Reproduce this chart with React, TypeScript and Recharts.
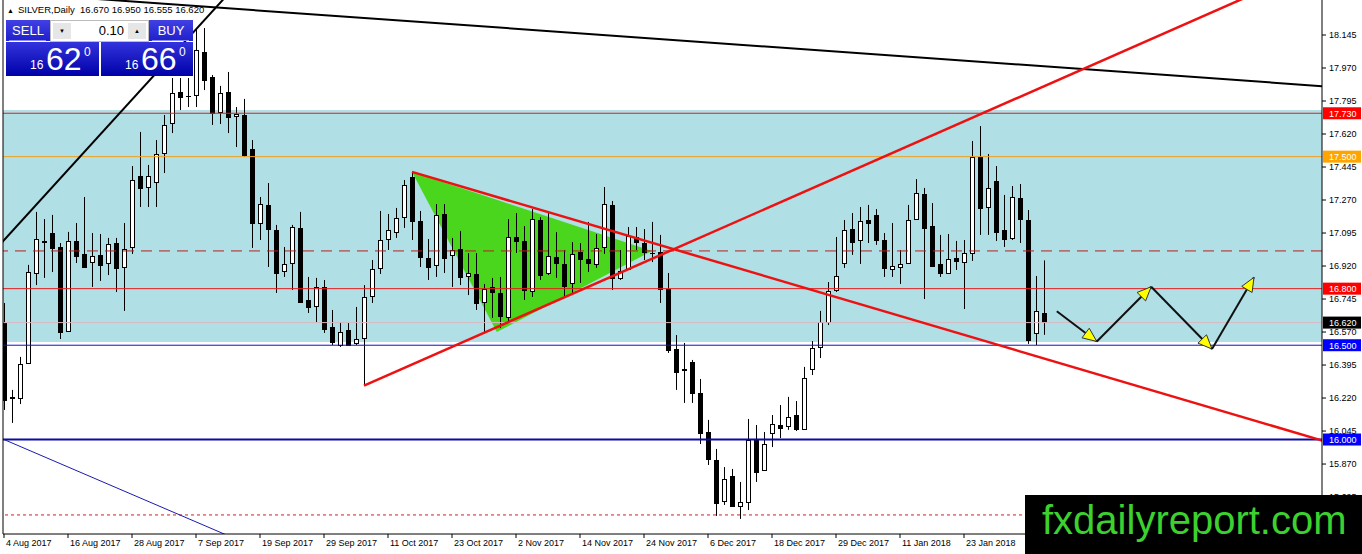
import React from "react";
import { ComposedChart, Bar, Area, XAxis, YAxis, ReferenceLine, ReferenceArea } from "recharts";

// daily candles, bar 0 = 4 Aug 2017
const opens = [
  16.618, 16.226, 16.22, 16.406, 16.883, 17.053, 17.095, 17.021, 16.576, 17.053,
  16.984, 16.941, 16.979, 16.936, 17.042, 16.915, 17.021, 17.397, 17.339, 17.366,
  17.519, 17.678, 17.843, 17.822, 17.827, 18.055, 17.922, 17.737, 17.843, 17.715,
  17.721, 17.54, 17.148, 17.244, 17.111, 16.894, 16.936, 17.122, 16.74, 16.708,
  16.809, 16.597, 16.501, 16.581, 16.512, 16.539, 16.761, 16.91, 17.063, 17.1,
  17.18, 17.392, 17.159, 16.963, 16.926, 17.196, 16.979, 17.01, 16.867, 16.878,
  16.729, 16.809, 16.777, 16.65, 17.074, 17.053, 16.788, 17.164, 16.883, 16.968,
  16.931, 16.83, 16.995, 16.957, 16.931, 17.021, 17.244, 16.857, 16.904, 17.074,
  17.042, 16.99, 16.995, 16.798, 16.48, 16.372, 16.411, 16.247, 16.04, 15.892,
  15.674, 15.807, 15.648, 15.669, 16.003, 15.839, 16.035, 16.077, 16.072, 16.13,
  16.056, 16.374, 16.491, 16.623, 16.793, 16.936, 17.116, 17.058, 17.164, 17.191,
  17.058, 16.904, 16.915, 16.936, 17.169, 17.302, 17.132, 16.931, 16.883, 16.963,
  16.941, 16.989, 17.498, 17.233, 17.371, 17.111, 17.069, 17.281, 17.164, 16.565,
  16.67,
];
const highs = [
  16.724, 16.263, 16.438, 16.926, 17.207, 17.169, 17.191, 17.042, 17.101, 17.148,
  17.286, 17.095, 17.09, 17.069, 17.069, 17.148, 17.45, 17.631, 17.456, 17.588,
  17.721, 17.917, 17.917, 17.917, 18.182, 18.182, 17.933, 17.875, 17.949, 17.763,
  17.806, 17.588, 17.286, 17.36, 17.138, 17.021, 17.138, 17.207, 16.862, 16.857,
  16.846, 16.687, 16.623, 16.618, 16.703, 16.819, 16.952, 17.212, 17.196, 17.228,
  17.376, 17.419, 17.212, 17.063, 17.249, 17.249, 17.069, 17.106, 16.989, 16.989,
  16.825, 16.857, 16.862, 17.169, 17.201, 17.132, 17.222, 17.18, 17.201, 17.1,
  17.005, 17.047, 17.042, 17.154, 17.09, 17.339, 17.265, 17.005, 17.127, 17.127,
  17.116, 17.154, 17.085, 16.883, 16.554, 16.512, 16.422, 16.321, 16.104, 15.95,
  15.854, 15.844, 15.775, 16.109, 16.077, 16.04, 16.13, 16.183, 16.226, 16.204,
  16.385, 16.522, 16.682, 16.835, 17.074, 17.164, 17.201, 17.233, 17.244, 17.222,
  17.095, 17.148, 17.005, 17.244, 17.381, 17.334, 17.254, 17.085, 17.09, 17.053,
  17.058, 17.583, 17.662, 17.514, 17.45, 17.297, 17.344, 17.355, 17.217, 16.867,
  16.95,
];
const lows = [
  16.157, 16.088, 16.188, 16.401, 16.819, 16.857, 16.888, 16.533, 16.57, 16.936,
  16.91, 16.809, 16.841, 16.872, 16.782, 16.682, 16.984, 17.233, 17.233, 17.233,
  17.413, 17.625, 17.747, 17.763, 17.763, 17.853, 17.668, 17.673, 17.625, 17.551,
  17.498, 17.016, 17.058, 16.915, 16.777, 16.862, 16.793, 16.729, 16.671, 16.623,
  16.565, 16.501, 16.491, 16.496, 16.501, 16.284, 16.724, 16.878, 17.005, 17.069,
  17.122, 17.058, 16.915, 16.846, 16.862, 16.883, 16.809, 16.819, 16.766, 16.687,
  16.565, 16.644, 16.591, 16.623, 16.989, 16.74, 16.756, 16.846, 16.872, 16.857,
  16.756, 16.777, 16.83, 16.888, 16.91, 16.984, 16.793, 16.846, 16.899, 17.005,
  16.952, 16.941, 16.724, 16.459, 16.263, 16.194, 16.194, 15.976, 15.865, 15.595,
  15.653, 15.648, 15.579, 15.626, 15.775, 15.839, 15.96, 16.008, 16.051, 16.045,
  16.051, 16.342, 16.432, 16.607, 16.782, 16.91, 16.979, 16.931, 17.042, 17.032,
  16.862, 16.862, 16.825, 16.936, 17.164, 16.745, 16.92, 16.862, 16.883, 16.899,
  16.692, 16.947, 17.085, 17.085, 17.053, 17.021, 17.058, 17.042, 16.507, 16.501,
  16.555,
];
const closes = [
  16.21, 16.22, 16.401, 16.888, 17.063, 17.05, 17.016, 16.57, 17.053, 16.973,
  16.915, 16.973, 16.926, 17.037, 16.91, 17.01, 17.376, 17.334, 17.397, 17.514,
  17.668, 17.837, 17.816, 17.82, 18.066, 17.906, 17.731, 17.837, 17.71, 17.726,
  17.509, 17.148, 17.249, 17.116, 16.883, 16.931, 17.127, 16.729, 16.703, 16.809,
  16.586, 16.517, 16.57, 16.501, 16.533, 16.756, 16.904, 17.058, 17.111, 17.175,
  17.35, 17.159, 16.968, 16.915, 17.191, 16.963, 17.005, 16.862, 16.883, 16.724,
  16.798, 16.782, 16.655, 17.074, 17.053, 16.793, 17.169, 16.872, 16.973, 16.936,
  16.814, 16.984, 16.957, 16.936, 17.016, 17.249, 16.857, 16.894, 17.079, 17.047,
  16.995, 16.988, 16.798, 16.475, 16.358, 16.369, 16.247, 16.035, 15.897, 15.664,
  15.791, 15.648, 15.669, 15.998, 15.828, 15.976, 16.082, 16.061, 16.12, 16.056,
  16.326, 16.485, 16.623, 16.788, 16.867, 17.111, 17.047, 17.159, 17.148, 17.058,
  16.91, 16.92, 16.931, 17.164, 17.307, 17.122, 16.92, 16.883, 16.957, 16.947,
  16.989, 17.498, 17.228, 17.334, 17.1, 17.063, 17.286, 17.169, 16.528, 16.682,
  16.62,
];

const dateTicks = [0, 8, 16, 24, 32, 40, 48, 56, 64, 72, 80, 88, 96, 104, 112, 120];
const dateLabels = [
  "4 Aug 2017", "16 Aug 2017", "28 Aug 2017", "7 Sep 2017", "19 Sep 2017", "29 Sep 2017",
  "11 Oct 2017", "23 Oct 2017", "2 Nov 2017", "14 Nov 2017", "24 Nov 2017", "6 Dec 2017",
  "18 Dec 2017", "29 Dec 2017", "11 Jan 2018", "23 Jan 2018",
];
const priceTicks = [
  18.145, 17.97, 17.795, 17.62, 17.445, 17.27, 17.095, 16.92, 16.745, 16.57, 16.395,
  16.22, 16.045, 15.87, 15.695,
];

// zone and levels
const zoneLow = 16.517;
const zoneHigh = 17.747;
const bidPrice = 16.62;

// green wedge inside the triangle (bar index, lower, upper)
const wedgeX = [51, 61.6, 81];
const wedgeLow = [17.419, 16.57, 17.0];
const wedgeHigh = [17.419, 17.271, 17.0];

// drawn trendlines: [bar, price] pairs
const blackRise = [[-1, 17.011], [29, 18.408]];
const blackTop = [[10, 18.341], [170, 17.858]];
const redRise = [[45, 16.286], [168, 18.583]];
const redFall = [[51, 17.419], [170, 15.929]];
const blueFall = [[0, 16.0], [40, 15.272]];

// forecast zig-zag
const forecastX = [131.6, 136.6, 143.4, 151, 156.25];
const forecastY = [16.68, 16.52, 16.81, 16.48, 16.86];

const candles = opens.map((o, i) => ({ i, open: o, high: highs[i], low: lows[i], close: closes[i] }));
const wedge = wedgeX.map((x, k) => ({ i: x, band: [wedgeLow[k], wedgeHigh[k]] }));
const yDomain = [15.499, 18.3306];
const font = "'Liberation Sans', Arial, sans-serif";

const Candle = (props: any) => {
  const { x, y, width, height, payload } = props;
  if (x == null || !payload) return null;
  const top = Math.min(y, y + height);
  const h = Math.abs(height);
  const { open, close, high, low } = payload;
  const py = (p: number) => top + ((high - p) / (high - low || 1)) * h;
  const cx = Math.round(x + width / 2) + 0.5;
  const yo = py(open);
  const yc = py(close);
  const bodyTop = Math.round(Math.min(yo, yc)) + 0.5;
  const bodyH = Math.round(Math.abs(yc - yo));
  return (
    <g>
      <line x1={cx} x2={cx} y1={top} y2={top + h} stroke="#000" strokeWidth={1} />
      {bodyH < 1 ? (
        <line x1={cx - 2.5} x2={cx + 2.5} y1={bodyTop} y2={bodyTop} stroke="#000" />
      ) : (
        <rect x={cx - 2} y={bodyTop} width={4} height={bodyH} fill={close >= open ? "#fff" : "#000"} stroke="#000" strokeWidth={1} />
      )}
    </g>
  );
};

const DateTick = (props: any) => {
  const { x, y, payload } = props;
  const k = dateTicks.indexOf(payload.value);
  return (
    <text x={x + 2} y={y} dy="0.71em" fontSize={9} fontFamily={font} fill="#000">
      {dateLabels[k]}
    </text>
  );
};

const AxisTag = ({ viewBox, text, bg }: any) => {
  if (!viewBox) return null;
  const x = viewBox.x + viewBox.width + 1;
  const y = viewBox.y;
  return (
    <g>
      <rect x={x} y={y - 6} width={38} height={12} fill={bg} />
      <text x={x + 6} y={y + 3.5} fontSize={9} fontFamily={font} fill="#fff">
        {text}
      </text>
    </g>
  );
};

const ArrowSeg = (props: any) => {
  const { x1, y1, x2, y2 } = props;
  const dx = x2 - x1;
  const dy = y2 - y1;
  const len = Math.sqrt(dx * dx + dy * dy) || 1;
  const ux = dx / len;
  const uy = dy / len;
  const bx = x2 - ux * 14;
  const by = y2 - uy * 14;
  const pts = `${x2},${y2} ${bx - uy * 6},${by + ux * 6} ${bx + uy * 6},${by - ux * 6}`;
  return (
    <g>
      <line x1={x1} y1={y1} x2={x2} y2={y2} stroke="#111" strokeWidth={2} />
      <polygon points={pts} fill="#ffff00" stroke="#333" strokeWidth={1} />
    </g>
  );
};

const seg = (s: number[][]) => s.map(([x, y]) => ({ x, y }));

const Chart = () => (
  <ComposedChart width={1362} height={554} data={candles} margin={{ top: 0, right: 0, bottom: 0, left: 0 }}>
    <XAxis
      dataKey="i"
      type="number"
      domain={[-0.125, 164.75]}
      allowDataOverflow
      ticks={dateTicks}
      interval={0}
      height={20}
      tickSize={4}
      tickMargin={2}
      tick={DateTick}
      axisLine={{ stroke: "#000" }}
      tickLine={{ stroke: "#000" }}
    />
    <YAxis yAxisId="frame" orientation="left" width={3} domain={yDomain} allowDataOverflow tick={false} tickLine={false} axisLine={{ stroke: "#000" }} />
    <YAxis
      orientation="right"
      width={40}
      domain={yDomain}
      allowDataOverflow
      ticks={priceTicks}
      interval={0}
      tickSize={4}
      tickMargin={3}
      tick={{ fontSize: 9, fill: "#000", fontFamily: font }}
      tickFormatter={(v: number) => v.toFixed(3)}
      axisLine={{ stroke: "#000" }}
      tickLine={{ stroke: "#000" }}
    />
    <ReferenceArea y1={zoneLow} y2={zoneHigh} fill="#b0e0e6" fillOpacity={1} stroke="none" />
    <Area data={wedge} dataKey="band" type="linear" stroke="none" fill="#4ad61c" fillOpacity={1} dot={false} activeDot={false} isAnimationActive={false} />

    <ReferenceLine y={17.73} stroke="#e81c1c" label={(p: any) => <AxisTag viewBox={p.viewBox} text="17.730" bg="#ff0000" />} />
    <ReferenceLine y={17.5} stroke="#f0a020" label={(p: any) => <AxisTag viewBox={p.viewBox} text="17.500" bg="#ffa500" />} />
    <ReferenceLine y={17.0} stroke="#b82020" strokeDasharray="11 7" />
    <ReferenceLine y={16.8} stroke="#e81c1c" label={(p: any) => <AxisTag viewBox={p.viewBox} text="16.800" bg="#ff0000" />} />
    <ReferenceLine y={bidPrice} stroke="#d9b9c0" label={(p: any) => <AxisTag viewBox={p.viewBox} text="16.620" bg="#000000" />} />
    <ReferenceLine y={16.5} stroke="#1010c8" label={(p: any) => <AxisTag viewBox={p.viewBox} text="16.500" bg="#0000ff" />} />
    <ReferenceLine y={16.0} stroke="#0a0aa8" strokeWidth={2} label={(p: any) => <AxisTag viewBox={p.viewBox} text="16.000" bg="#0000ff" />} />
    <ReferenceLine y={15.6} stroke="#d02020" strokeDasharray="3 3" />

    <Bar dataKey={(d: any) => [d.low, d.high]} barSize={6} shape={Candle} isAnimationActive={false} />

    <ReferenceLine segment={seg(blueFall)} ifOverflow="hidden" stroke="#1a1ab0" strokeWidth={1} />
    <ReferenceLine segment={seg(blackRise)} ifOverflow="hidden" stroke="#000" strokeWidth={2} />
    <ReferenceLine segment={seg(blackTop)} ifOverflow="hidden" stroke="#000" strokeWidth={2} />
    <ReferenceLine segment={seg(redRise)} ifOverflow="hidden" stroke="#ee1111" strokeWidth={2.5} />
    <ReferenceLine segment={seg(redFall)} ifOverflow="hidden" stroke="#ee1111" strokeWidth={2.5} />
    {forecastX.slice(1).map((x, k) => (
      <ReferenceLine
        key={k}
        segment={[{ x: forecastX[k], y: forecastY[k] }, { x, y: forecastY[k + 1] }]}
        ifOverflow="visible"
        shape={ArrowSeg}
      />
    ))}
  </ComposedChart>
);

const priceBox: React.CSSProperties = {
  position: "absolute",
  top: 42,
  height: 34,
  background: "linear-gradient(#3333dd, #0000a8)",
  color: "#fff",
  fontFamily: font,
};
const labelBox: React.CSSProperties = {
  position: "absolute",
  top: 20,
  height: 21,
  width: 44,
  background: "linear-gradient(#4040e4, #2020cc)",
  color: "#fff",
  fontFamily: font,
  fontSize: 13,
  lineHeight: "21px",
  textAlign: "center",
};

const Price = ({ big }: { big: string }) => (
  <>
    <span style={{ position: "absolute", left: 24, top: 17, fontSize: 12, lineHeight: "12px" }}>16</span>
    <span style={{ position: "absolute", left: 40, top: 1, fontSize: 32, lineHeight: "32px" }}>{big}</span>
    <span style={{ position: "absolute", left: 78, top: 4, fontSize: 12, lineHeight: "12px" }}>0</span>
  </>
);

export default function App() {
  return (
    <div style={{ position: "absolute", left: 0, top: 0, width: 1362, height: 554, background: "#fff", overflow: "hidden" }}>
      <Chart />
      <div style={{ position: "absolute", left: 7, top: 4, fontFamily: font, fontSize: 9.5, color: "#000", whiteSpace: "nowrap" }}>
        <span style={{ fontSize: 7, marginRight: 4 }}>▲</span>SILVER,Daily&nbsp; 16.670 16.950 16.555 16.620
      </div>
      <div style={{ ...labelBox, left: 6 }}>SELL</div>
      <div style={{ position: "absolute", left: 9, top: 40, width: 37, height: 1, background: "#8c8cf0" }} />
      <div style={{ position: "absolute", left: 50, top: 20, width: 97, height: 20, background: "#fff", border: "1px solid #bdbdbd", fontFamily: font }}>
        <div style={{ position: "absolute", left: 2, top: 2, width: 18, height: 16, background: "#e6e6e6", fontSize: 6, lineHeight: "16px", textAlign: "center" }}>▼</div>
        <div style={{ position: "absolute", right: 24, top: 0, fontSize: 13, lineHeight: "20px" }}>0.10</div>
        <div style={{ position: "absolute", right: 2, top: 2, width: 18, height: 16, background: "#e6e6e6", fontSize: 6, lineHeight: "16px", textAlign: "center" }}>▲</div>
      </div>
      <div style={{ ...labelBox, left: 149 }}>BUY</div>
      <div style={{ position: "absolute", left: 152, top: 40, width: 37, height: 1, background: "#8c8cf0" }} />
      <div style={{ ...priceBox, left: 6, width: 93 }}>
        <Price big="62" />
      </div>
      <div style={{ ...priceBox, left: 101, width: 92 }}>
        <Price big="66" />
      </div>
      <div style={{ position: "absolute", left: 1025, top: 495, width: 337, height: 59, background: "#000" }}>
        <div style={{ position: "absolute", left: 17, top: 5, fontFamily: font, fontSize: 40, lineHeight: "40px", color: "#3cd12f", whiteSpace: "nowrap" }}>
          fxdailyreport.com
        </div>
      </div>
    </div>
  );
}
